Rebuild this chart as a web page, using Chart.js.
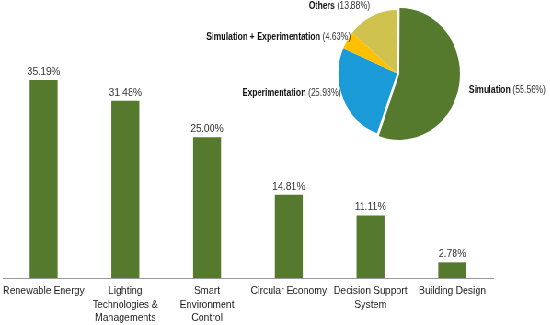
<!DOCTYPE html>
<html>
<head>
<meta charset="utf-8">
<script src="https://cdn.jsdelivr.net/npm/chart.js@4/dist/chart.umd.min.js"></script>
<style>
  html, body { margin: 0; padding: 0; background: #fff; overflow: hidden; }
  /* the reference is squeezed horizontally, so draw wide and scale down */
  #wrap { position: relative; width: 598px; height: 325px; transform: scaleX(0.92); transform-origin: 0 0; }
  #wrap canvas { position: absolute; left: 0; top: 0; }
</style>
</head>
<body>
<div id="wrap">
  <canvas id="bar-chart" width="598" height="325"></canvas>
  <canvas id="pie-chart" width="598" height="150"></canvas>
</div>
<script>
// bar chart: share of research topics
const categories = [
    'Renewable Energy',
    ['Lighting', 'Technologies &', 'Managements'],
    ['Smart', 'Environment', 'Control'],
    'Circular Economy',
    ['Decision Support', 'System'],
    'Building Design'
];
const topicShares = [35.19, 31.48, 25.00, 14.81, 11.11, 2.78];

// pie chart: research methods
const methodLabels = ['Simulation', 'Experimentation', 'Simulation + Experimentation', 'Others'];
const methodShares = [55.56, 25.93, 4.63, 13.88];

const GREEN = '#557a2e';
const FONT = "'Liberation Sans', Arial, sans-serif";

// small hand nudges for the pie labels (dx, dy), the original placed them by hand
const labelNudge = [[0, 3], [3, -8], [9, 0], [0, -4]];
const PIE_TEXT_SQUEEZE = 0.88;

const valueLabels = {
    id: 'valueLabels',
    afterDatasetsDraw(chart) {
        const ctx = chart.ctx;
        const meta = chart.getDatasetMeta(0);
        ctx.save();
        ctx.font = `10.5px ${FONT}`;
        ctx.fillStyle = '#333';
        ctx.textAlign = 'center';
        ctx.textBaseline = 'alphabetic';
        meta.data.forEach((bar, i) => {
            ctx.fillText(topicShares[i].toFixed(2) + '%', bar.x, bar.y - 5);
        });
        ctx.restore();
    }
};

const pieLabels = {
    id: 'pieLabels',
    afterDraw(chart) {
        const ctx = chart.ctx;
        const meta = chart.getDatasetMeta(0);
        const offsets = chart.data.datasets[0].offset;
        const k = PIE_TEXT_SQUEEZE;
        meta.data.forEach((arc, i) => {
            const { x, y, startAngle, endAngle, outerRadius } = arc.getProps(['x', 'y', 'startAngle', 'endAngle', 'outerRadius'], true);
            const mid = (startAngle + endAngle) / 2;
            const r = outerRadius + offsets[i] + 6;
            const px = x + Math.cos(mid) * r + labelNudge[i][0];
            const py = y + Math.sin(mid) * r + labelNudge[i][1];
            const name = methodLabels[i];
            const pct = ' (' + methodShares[i].toFixed(2) + '%)';
            ctx.save();
            ctx.textBaseline = 'middle';
            ctx.textAlign = 'left';
            ctx.font = `bold 10px ${FONT}`;
            const w1 = ctx.measureText(name).width;
            ctx.font = `10px ${FONT}`;
            const w2 = ctx.measureText(pct).width;
            const left = Math.cos(mid) >= 0 ? px : px - (w1 + w2) * k;
            ctx.translate(left, py);
            ctx.scale(k, 1);
            ctx.font = `bold 10px ${FONT}`;
            ctx.fillStyle = '#111';
            ctx.fillText(name, 0, 0);
            ctx.font = `10px ${FONT}`;
            ctx.fillStyle = '#333';
            ctx.fillText(pct, w1, 0);
            ctx.restore();
        });
    }
};

new Chart(document.getElementById('bar-chart'), {
    type: 'bar',
    data: {
        labels: categories,
        datasets: [{
            data: topicShares,
            backgroundColor: GREEN,
            barPercentage: 0.342,
            categoryPercentage: 1
        }]
    },
    options: {
        responsive: false,
        animation: false,
        events: [],
        layout: { padding: { left: 3, right: 62, top: 0, bottom: 0 } },
        plugins: { legend: { display: false }, tooltip: { enabled: false } },
        scales: {
            x: {
                grid: { display: false, drawTicks: false },
                border: { color: '#999', width: 1 },
                ticks: {
                    color: '#222',
                    font: { family: FONT, size: 10.5, lineHeight: 1.25 },
                    padding: 7,
                    maxRotation: 0,
                    autoSkip: false
                },
                afterFit(scale) {
                    scale.height = 47;
                    scale.paddingLeft = 0;
                    scale.paddingRight = 0;
                }
            },
            y: { display: false, min: 0, max: 49.4 }
        }
    },
    plugins: [valueLabels]
});

new Chart(document.getElementById('pie-chart'), {
    type: 'pie',
    data: {
        labels: methodLabels,
        datasets: [{
            data: methodShares,
            backgroundColor: [GREEN, '#1a9ad6', '#ffc000', '#cfc24f'],
            borderWidth: 0,
            offset: [10, 0, 0, 0]
        }]
    },
    options: {
        responsive: false,
        animation: false,
        events: [],
        radius: 63.5,
        layout: { padding: { left: 265, right: 0, top: 0, bottom: 3 } },
        plugins: { legend: { display: false }, tooltip: { enabled: false } }
    },
    plugins: [pieLabels]
});
</script>
</body>
</html>
